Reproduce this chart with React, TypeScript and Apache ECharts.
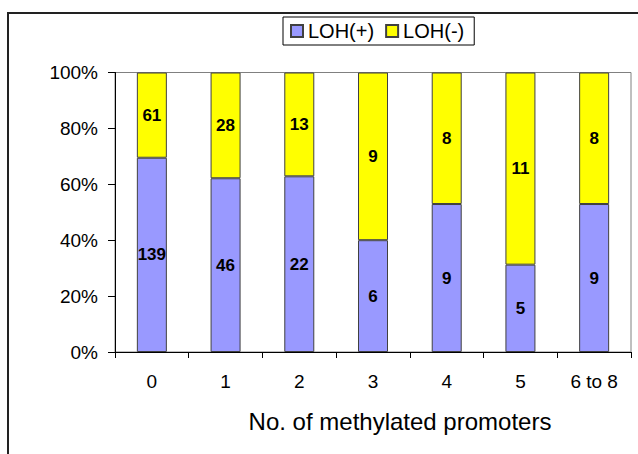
import React, { useEffect, useRef } from "react";
import * as echarts from "echarts";

const categories = ["0", "1", "2", "3", "4", "5", "6 to 8"];
const lohPlus = [139, 46, 22, 6, 9, 5, 9];
const lohMinus = [61, 28, 13, 9, 8, 11, 8];
const yTicks = [0, 20, 40, 60, 80, 100];

const FONT = "'Liberation Sans', Arial, sans-serif";

export default function App() {
  const ref = useRef<HTMLDivElement>(null);
  useEffect(() => {
    if (!ref.current) return;
    const chart = echarts.init(ref.current, null, { renderer: "svg" });
    const totals = lohPlus.map((v, i) => v + lohMinus[i]);
    const plusPct = lohPlus.map((v, i) => (v / totals[i]) * 100);
    const minusPct = lohMinus.map((v, i) => (v / totals[i]) * 100);
    const labelStyle = {
      show: true,
      position: "inside" as const,
      color: "#000",
      fontFamily: FONT,
      fontWeight: "bold" as const,
      fontSize: 17,
    };
    chart.setOption({
      animation: false,
      backgroundColor: "#fff",
      textStyle: { fontFamily: FONT },
      grid: {
        left: 115,
        top: 72.5,
        right: 7,
        bottom: 102,
        show: true,
        borderColor: "#808080",
        borderWidth: 1,
        containLabel: false,
      },
      legend: {
        left: 283,
        top: 17,
        orient: "horizontal",
        itemWidth: 12,
        itemHeight: 12,
        itemGap: 11,
        padding: [4, 10, 4, 7],
        borderColor: "#000",
        borderWidth: 1,
        textStyle: { fontFamily: FONT, fontSize: 20, color: "#000" },
        icon: "rect",
        data: ["LOH(+)", "LOH(-)"],
      },
      xAxis: {
        type: "category",
        data: categories,
        axisLine: { show: true, lineStyle: { color: "#000", width: 1 } },
        axisTick: { show: true, length: 6, lineStyle: { color: "#000" } },
        axisLabel: { interval: 0, margin: 20, fontSize: 19, color: "#000", fontFamily: FONT },
      },
      yAxis: {
        type: "value",
        min: yTicks[0],
        max: yTicks[yTicks.length - 1],
        interval: 20,
        splitLine: { show: false },
        axisLine: { show: true, lineStyle: { color: "#000", width: 1 } },
        axisTick: { show: true, length: 7, lineStyle: { color: "#000" } },
        axisLabel: {
          formatter: "{value}%",
          margin: 17,
          fontSize: 19,
          color: "#000",
          fontFamily: FONT,
        },
      },
      graphic: [
        {
          type: "rect",
          shape: { x: 8, y: 13, width: 720, height: 600 },
          style: { fill: "none", stroke: "#222", lineWidth: 2 },
          silent: true,
        },
        {
          type: "text",
          x: 400,
          y: 421,
          style: {
            text: "No. of methylated promoters",
            fontFamily: FONT,
            fontSize: 24,
            fill: "#000",
            textAlign: "center",
            textVerticalAlign: "middle",
          },
        },
      ],
      series: [
        {
          name: "LOH(+)",
          type: "bar",
          stack: "total",
          barWidth: 30,
          data: plusPct,
          itemStyle: { color: "#9999FF", borderColor: "#404040", borderWidth: 1 },
          label: { ...labelStyle, formatter: (p: any) => String(lohPlus[p.dataIndex]) },
        },
        {
          name: "LOH(-)",
          type: "bar",
          stack: "total",
          barWidth: 30,
          data: minusPct,
          itemStyle: { color: "#FFFF00", borderColor: "#404040", borderWidth: 1 },
          label: { ...labelStyle, formatter: (p: any) => String(lohMinus[p.dataIndex]) },
        },
      ],
    });
    return () => chart.dispose();
  }, []);
  return (
    <div
      ref={ref}
      style={{ position: "absolute", left: 0, top: 0, width: 638, height: 454 }}
    />
  );
}
